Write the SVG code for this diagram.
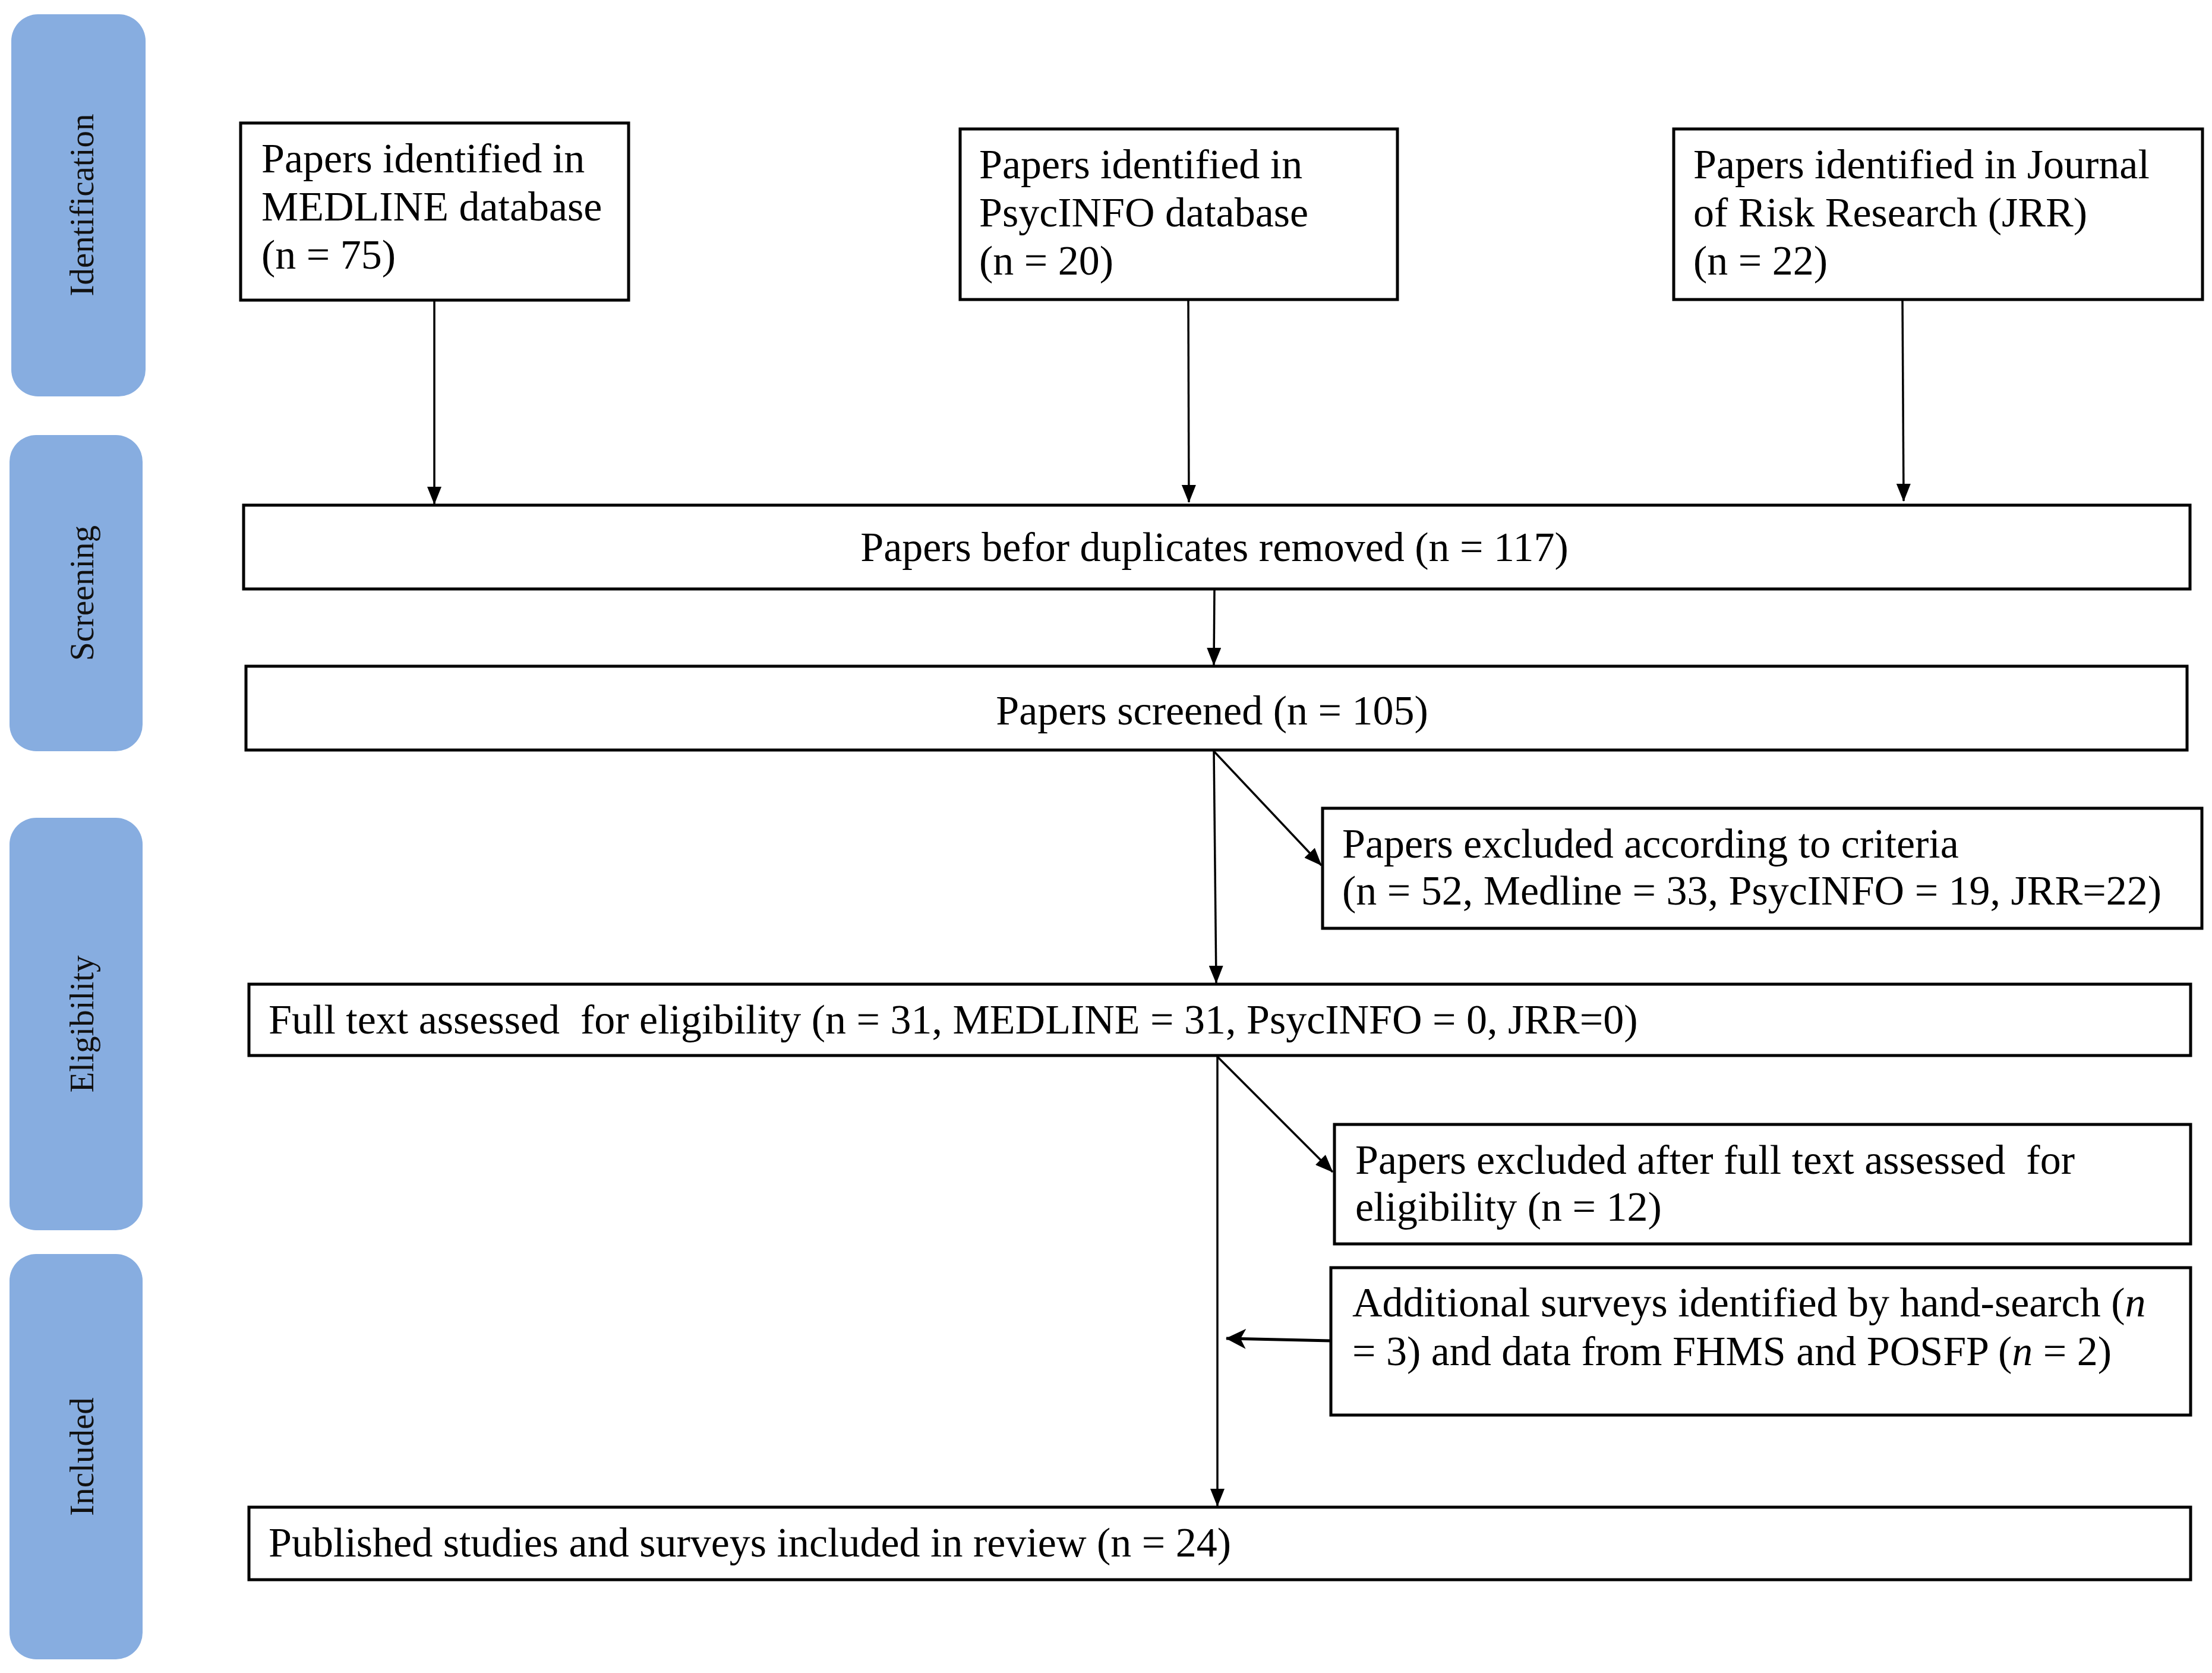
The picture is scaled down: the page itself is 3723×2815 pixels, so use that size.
<svg xmlns="http://www.w3.org/2000/svg" width="3723" height="2815" viewBox="0 0 3723 2815">
<style>
.bar{fill:#87ADE0;}
.lbl{font-family:"Liberation Serif","Times New Roman",serif;font-size:57px;fill:#111;text-anchor:middle;}
.box{fill:#fff;stroke:#000;stroke-width:5;}
.t{font-family:"Liberation Serif","Times New Roman",serif;font-size:70px;fill:#000;white-space:pre;}
.c{text-anchor:middle;}
.ln{stroke:#000;stroke-width:3.5;fill:none;}
</style>
<defs>
<marker id="ah" markerUnits="userSpaceOnUse" markerWidth="30" markerHeight="24" viewBox="0 0 30 24" refX="29" refY="12" orient="auto">
<path d="M0,0 L30,12 L0,24 Z" fill="#000"/>
</marker>
<marker id="ah2" markerUnits="userSpaceOnUse" markerWidth="34" markerHeight="34" viewBox="0 0 34 34" refX="33" refY="17" orient="auto">
<path d="M0,0 L34,17 L0,34 L9,17 Z" fill="#000"/>
</marker>
</defs>
<rect width="3723" height="2815" fill="#fff"/>
<g id="phase-identification"><rect class="bar" x="19" y="24" width="226" height="643" rx="45" ry="45"/><text class="lbl" transform="translate(157,345) rotate(-90)">Identification</text></g>
<g id="phase-screening"><rect class="bar" x="16" y="732" width="224" height="532" rx="45" ry="45"/><text class="lbl" transform="translate(157,998) rotate(-90)">Screening</text></g>
<g id="phase-eligibility"><rect class="bar" x="16" y="1376" width="224" height="694" rx="45" ry="45"/><text class="lbl" transform="translate(157,1723) rotate(-90)">Eligibility</text></g>
<g id="phase-included"><rect class="bar" x="16" y="2110" width="224" height="682" rx="45" ry="45"/><text class="lbl" transform="translate(157,2451) rotate(-90)">Included</text></g>

<g id="connectors">
<line class="ln" x1="731" y1="505" x2="731" y2="848" marker-end="url(#ah)"/>
<line class="ln" x1="2000" y1="504" x2="2001" y2="845" marker-end="url(#ah)"/>
<line class="ln" x1="3202" y1="504" x2="3204" y2="843" marker-end="url(#ah)"/>
<line class="ln" x1="2044" y1="991" x2="2043" y2="1119" marker-end="url(#ah)"/>
<line class="ln" x1="2043" y1="1262" x2="2047" y2="1654" marker-end="url(#ah)"/>
<line class="ln" x1="2043" y1="1264" x2="2224" y2="1456" marker-end="url(#ah)"/>
<line class="ln" x1="2049" y1="1776" x2="2049" y2="2534" marker-end="url(#ah)"/>
<line class="ln" x1="2049" y1="1778" x2="2243" y2="1972" marker-end="url(#ah)"/>
<line x1="2240" y1="2256" x2="2064" y2="2252" stroke="#000" stroke-width="5" marker-end="url(#ah2)"/>
</g>

<g id="n-medline"><rect class="box" x="405" y="207" width="653" height="298"/>
<text class="t" x="440" y="290">Papers identified in</text>
<text class="t" x="440" y="371">MEDLINE database</text>
<text class="t" x="440" y="452">(n = 75)</text></g>
<g id="n-psycinfo"><rect class="box" x="1616" y="217" width="736" height="287"/>
<text class="t" x="1648" y="300">Papers identified in</text>
<text class="t" x="1648" y="381">PsycINFO database</text>
<text class="t" x="1648" y="462">(n = 20)</text></g>
<g id="n-jrr"><rect class="box" x="2817" y="217" width="890" height="287"/>
<text class="t" x="2850" y="300">Papers identified in Journal</text>
<text class="t" x="2850" y="381">of Risk Research (JRR)</text>
<text class="t" x="2850" y="462">(n = 22)</text></g>
<g id="n-before"><rect class="box" x="410" y="850" width="3276" height="141"/>
<text class="t c" x="2044" y="944">Papers befor duplicates removed (n = 117)</text></g>
<g id="n-screened"><rect class="box" x="414" y="1121" width="3267" height="141"/>
<text class="t c" x="2040" y="1219">Papers screened (n = 105)</text></g>
<g id="n-excluded1"><rect class="box" x="2226" y="1360" width="1480" height="202"/>
<text class="t" x="2259" y="1443">Papers excluded according to criteria</text>
<text class="t" x="2259" y="1522">(n = 52, Medline = 33, PsycINFO = 19, JRR=22)</text></g>
<g id="n-fulltext"><rect class="box" x="419" y="1656" width="3268" height="120"/>
<text class="t" x="452" y="1739">Full text assessed  for eligibility (n = 31, MEDLINE = 31, PsycINFO = 0, JRR=0)</text></g>
<g id="n-excluded2"><rect class="box" x="2246" y="1892" width="1441" height="201"/>
<text class="t" x="2281" y="1975">Papers excluded after full text assessed  for</text>
<text class="t" x="2281" y="2054">eligibility (n = 12)</text></g>
<g id="n-additional"><rect class="box" x="2240" y="2133" width="1447" height="248"/>
<text class="t" x="2276" y="2215">Additional surveys identified by hand-search (<tspan font-style="italic">n</tspan></text>
<text class="t" x="2276" y="2297">= 3) and data from FHMS and POSFP (<tspan font-style="italic">n</tspan> = 2)</text></g>
<g id="n-included"><rect class="box" x="419" y="2536" width="3268" height="122"/>
<text class="t" x="452" y="2619">Published studies and surveys included in review (n = 24)</text></g>
</svg>
